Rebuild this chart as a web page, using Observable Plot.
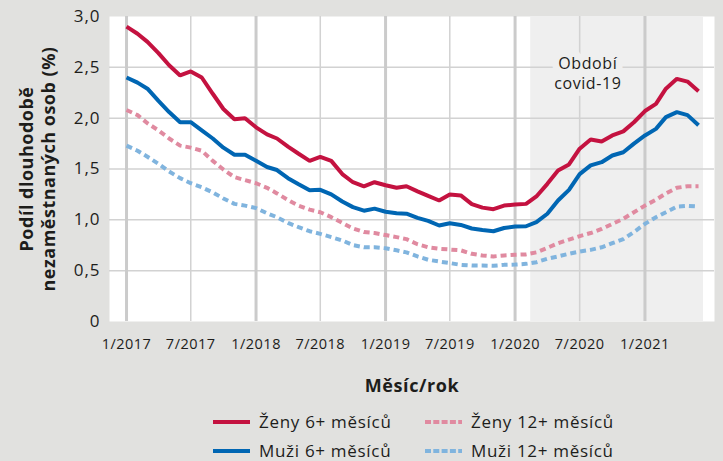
<!DOCTYPE html>
<html><head><meta charset="utf-8">
<script src="https://cdn.jsdelivr.net/npm/d3@7"></script>
<script src="https://cdn.jsdelivr.net/npm/@observablehq/plot@0.6"></script>
<style>
html,body{margin:0;padding:0;background:#e1e1df;width:723px;height:461px;overflow:hidden;font-family:"Open Sans","Noto Sans",sans-serif;color:#1d1d1b;}
#chart svg{display:block;background:transparent;}
#chart svg [aria-label="x-axis label"] text{font-weight:700;font-size:18px;letter-spacing:0.6px;}
#chart svg [aria-label="x-axis tick label"] text{letter-spacing:0.5px;}
#chart svg [aria-label="y-axis tick label"] text{letter-spacing:1px;}
#legend{display:grid;grid-template-columns:212px 220px;padding-left:213px;padding-top:7px;}
#legend .item{display:flex;align-items:center;height:29px;font-size:17px;letter-spacing:0.7px;white-space:nowrap;}
#legend svg{margin-right:9px;flex:none;}
</style></head>
<body><div id="chart"></div><div id="legend"></div>
<script>
const startMonth = "2017-01-01";
const monthCount = 54;
const seriesNames = ["Ženy 6+ měsíců","Muži 6+ měsíců","Ženy 12+ měsíců","Muži 12+ měsíců"];
const seriesColors = ["#c41240","#0066b3","#e08aa0","#80b4de"];
const seriesDash = [null,null,"6,4","6,4"];
const zeny6 = [2.90,2.83,2.75,2.64,2.52,2.42,2.46,2.40,2.24,2.09,1.99,2.00,1.91,1.84,1.80,1.72,1.65,1.58,1.62,1.58,1.45,1.37,1.33,1.37,1.34,1.315,1.33,1.28,1.235,1.19,1.25,1.24,1.155,1.12,1.105,1.14,1.15,1.157,1.23,1.354,1.485,1.545,1.70,1.79,1.77,1.83,1.87,1.96,2.07,2.14,2.29,2.387,2.36,2.265];
const muzi6 = [2.40,2.35,2.29,2.17,2.06,1.96,1.96,1.88,1.80,1.71,1.64,1.64,1.58,1.52,1.49,1.41,1.35,1.29,1.295,1.25,1.18,1.125,1.09,1.11,1.08,1.065,1.06,1.02,0.99,0.944,0.967,0.95,0.915,0.90,0.888,0.92,0.934,0.937,0.977,1.06,1.19,1.295,1.45,1.535,1.567,1.633,1.665,1.75,1.83,1.895,2.01,2.06,2.03,1.93];
const zeny12 = [2.08,2.03,1.95,1.88,1.80,1.73,1.71,1.68,1.58,1.495,1.42,1.39,1.36,1.315,1.26,1.195,1.14,1.10,1.075,1.026,0.97,0.915,0.88,0.87,0.85,0.83,0.81,0.76,0.73,0.715,0.708,0.70,0.666,0.65,0.64,0.65,0.656,0.66,0.68,0.725,0.77,0.806,0.84,0.87,0.91,0.96,1.01,1.075,1.14,1.197,1.26,1.315,1.33,1.33];
const muzi12 = [1.73,1.68,1.62,1.55,1.475,1.41,1.36,1.32,1.27,1.21,1.157,1.14,1.115,1.065,1.026,0.97,0.928,0.888,0.862,0.83,0.797,0.752,0.73,0.73,0.72,0.70,0.68,0.64,0.607,0.59,0.575,0.557,0.55,0.55,0.548,0.557,0.56,0.567,0.583,0.617,0.64,0.666,0.688,0.705,0.73,0.77,0.81,0.88,0.96,1.026,1.075,1.13,1.138,1.13];
const xTickDates = ["2017-01-01","2017-07-01","2018-01-01","2018-07-01","2019-01-01","2019-07-01","2020-01-01","2020-07-01","2021-01-01"];
const yTicks = [0,0.5,1,1.5,2,2.5,3];
const yGrid = [0.5,1,1.5,2,2.5];
const covid = [{start:"2020-02-14", end:"2021-06-15"}];
const annotation = [{date:"2020-07-24", value:2.45, text:"Období\ncovid-19"}];
const yTitle = ["Podíl dlouhodobě\nnezaměstnaných osob (%)"];

const dates = d3.utcMonth.range(new Date(startMonth), d3.utcMonth.offset(new Date(startMonth), monthCount));
const allSeries = [zeny6, muzi6, zeny12, muzi12];
const rows = allSeries.flatMap((vals, i) => vals.map((v, j) => ({date: dates[j], value: v, series: seriesNames[i]})));
const ticks = xTickDates.map(d => new Date(d));
const janTicks = ticks.filter(d => d.getUTCMonth() === 0);
const julTicks = ticks.filter(d => d.getUTCMonth() === 6);
const covidRows = covid.map(c => ({start:new Date(c.start), end:new Date(c.end)}));
const annRows = annotation.map(a => ({...a, date:new Date(a.date)}));

const lineMarks = allSeries.map((_, i) => Plot.line(rows.filter(r => r.series === seriesNames[i]), {
  x: "date", y: "value", stroke: seriesColors[i], strokeWidth: 4,
  strokeDasharray: seriesDash[i] || undefined, strokeLinejoin: "miter", strokeLinecap: "butt"
}));
const orderedLines = [lineMarks[3], lineMarks[2], lineMarks[1], lineMarks[0]];

const plot = Plot.plot({
  width: 723, height: 400,
  marginLeft: 109, marginRight: 9, marginTop: 16, marginBottom: 79,
  style: {fontFamily: '"Open Sans","Noto Sans",sans-serif', color: "#1d1d1b", background: "transparent"},
  x: {type: "utc", domain: [new Date("2016-11-14"), new Date("2021-07-16")]},
  y: {domain: [0, 3]},
  marks: [
    Plot.frame({fill: "white", stroke: null}),
    Plot.rect(covidRows, {x1: "start", x2: "end", fill: "#efefef"}),
    Plot.gridY(yGrid, {stroke: "#d2d2d2", strokeOpacity: 1, strokeWidth: 1.5}),
    Plot.gridX(julTicks, {stroke: "#d2d2d2", strokeOpacity: 1, strokeWidth: 1.5}),
    Plot.gridX(janTicks, {stroke: "#cbcbcb", strokeOpacity: 1, strokeWidth: 3}),
    Plot.text(annRows, {x: "date", y: "value", text: "text", fontSize: 16, lineHeight: 1.25, fill: "#1d1d1b",
      stroke: "#efefef", strokeWidth: 14, strokeLinejoin: "round"}),
    ...orderedLines,
    Plot.axisY(yTicks, {tickSize: 0, tickPadding: 9, fontSize: 17, label: null,
      tickFormat: d => d === 0 ? "0" : d.toFixed(1).replace(".", ",")}),
    Plot.axisX(ticks, {tickSize: 0, tickPadding: 17, fontSize: 14.5,
      tickFormat: d => `${d.getUTCMonth() + 1}/${d.getUTCFullYear()}`,
      label: "Měsíc/rok", labelAnchor: "center", labelArrow: "none", labelOffset: 70}),
    Plot.text(yTitle, {frameAnchor: "left", textAnchor: "middle", dx: -73, rotate: -90,
      fontSize: 18, fontWeight: 700, lineHeight: 1.22, fill: "#1d1d1b"})
  ]
});
plot.querySelectorAll('text').forEach(t => {
  if (t.textContent.startsWith("Podíl")) t.closest('g').setAttribute("letter-spacing", "0.5");
  if (t.textContent.startsWith("Období")) t.closest('g').setAttribute("letter-spacing", "0.6");
});
document.getElementById("chart").appendChild(plot);

const legend = document.getElementById("legend");
[0, 2, 1, 3].forEach(i => {
  const item = document.createElement("div");
  item.className = "item";
  item.innerHTML = `<svg width="37" height="6"><line x1="0" x2="37" y1="3" y2="3" stroke="${seriesColors[i]}" stroke-width="4" ${seriesDash[i] ? `stroke-dasharray="6,2.3"` : ""}/></svg><span>${seriesNames[i]}</span>`;
  legend.appendChild(item);
});
</script></body></html>
